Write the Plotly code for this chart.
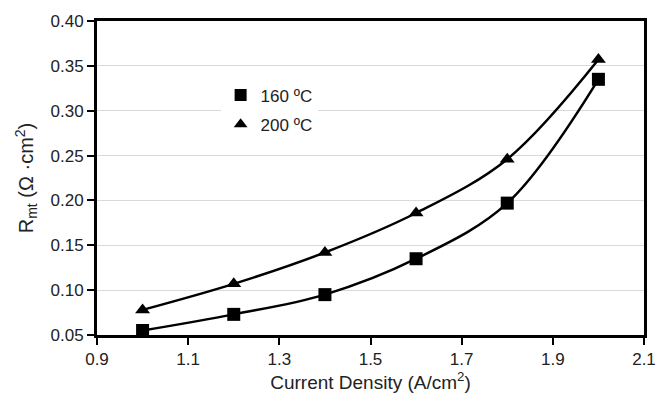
import plotly.graph_objects as go

# Current density (A/cm^2) and mass-transport resistance (Ohm·cm^2)
current_density = [1.0, 1.2, 1.4, 1.6, 1.8, 2.0]
rmt_160 = [0.055, 0.073, 0.095, 0.135, 0.197, 0.335]
rmt_200 = [0.078, 0.107, 0.142, 0.186, 0.246, 0.357]

x_ticks = [0.9, 1.1, 1.3, 1.5, 1.7, 1.9, 2.1]
y_ticks = [0.05, 0.10, 0.15, 0.20, 0.25, 0.30, 0.35, 0.40]

font_family = "Liberation Sans, Arial, sans-serif"

fig = go.Figure()

series = [
    ("160 ºC", rmt_160, "square"),
    ("200 ºC", rmt_200, "triangle-up"),
]

for name, values, symbol in series:
    fig.add_trace(go.Scatter(
        x=current_density, y=values,
        mode="lines",
        line=dict(color="black", width=2.5, shape="spline", smoothing=1.0),
        showlegend=False, hoverinfo="skip",
    ))
    fig.add_trace(go.Scatter(
        x=current_density, y=values,
        mode="markers",
        name=name,
        legendgroup=name,
        marker=dict(symbol=symbol, size=13, color="black"),
    ))

fig.update_layout(
    width=668, height=403,
    margin=dict(l=97, r=13, t=15, b=66),
    paper_bgcolor="white",
    plot_bgcolor="white",
    font=dict(family=font_family, size=17, color="#222222"),
    legend=dict(
        x=0.226, y=0.82, xanchor="left", yanchor="top",
        bgcolor="white",
        font=dict(size=17, color="#222222"),
        itemsizing="constant",
        traceorder="grouped",
        tracegroupgap=4,
    ),
    xaxis=dict(
        range=[0.9, 2.1],
        tickvals=x_ticks,
        ticktext=[f"{v:.1f}" for v in x_ticks],
        showgrid=False,
        showline=True, linecolor="black", linewidth=3, mirror=True,
        ticks="outside", ticklen=7, tickwidth=2, tickcolor="black",
        zeroline=False,
        title=dict(text="Current Density (A/cm<sup>2</sup>)", font=dict(size=19), standoff=8),
    ),
    yaxis=dict(
        range=[0.05, 0.40],
        tickvals=y_ticks,
        ticktext=[f"{v:.2f}" for v in y_ticks],
        showgrid=True, gridcolor="#d9d9d9", gridwidth=1,
        showline=True, linecolor="black", linewidth=3, mirror=True,
        ticks="outside", ticklen=7, tickwidth=2, tickcolor="black",
        zeroline=False,
        title=dict(text="R<sub>mt</sub> (Ω ·cm<sup>2</sup>)", font=dict(size=20), standoff=12),
    ),
)

fig.write_html("out.html")
